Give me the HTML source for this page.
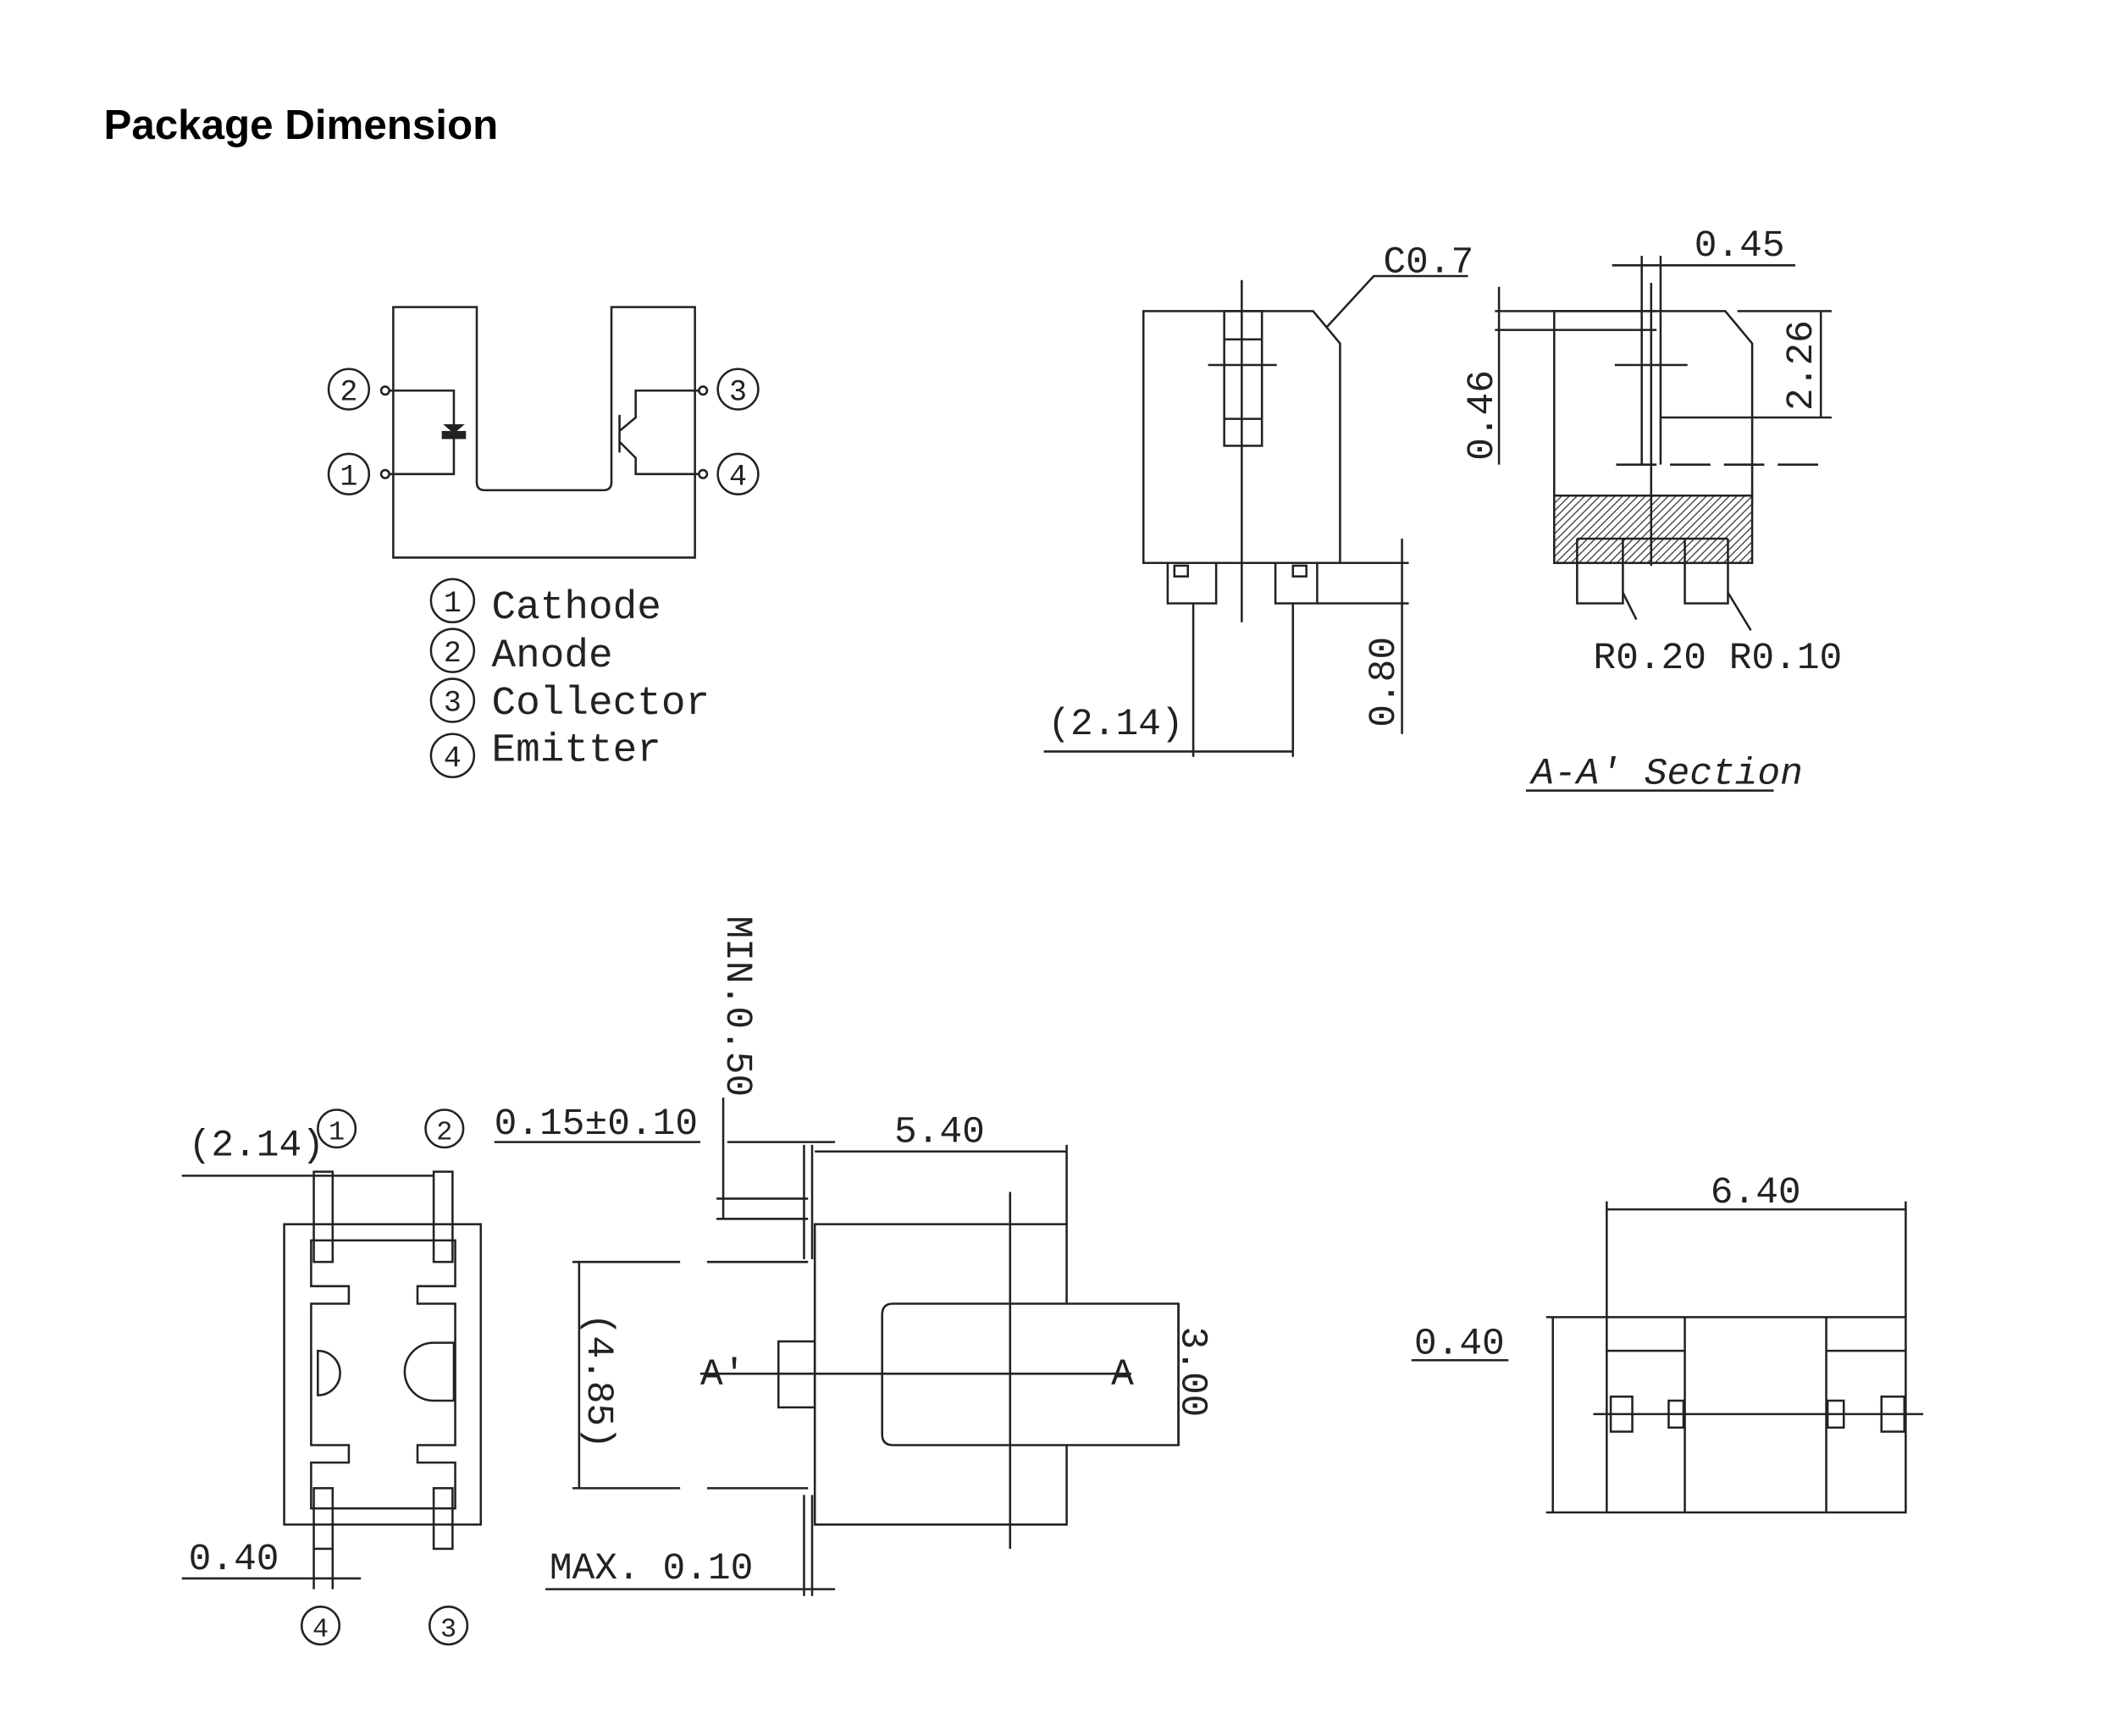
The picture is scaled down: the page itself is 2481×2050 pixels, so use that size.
<!DOCTYPE html>
<html><head><meta charset="utf-8"><style>
html,body{margin:0;padding:0;background:#fff}
svg{display:block}
.t{font-family:"Liberation Mono","DejaVu Sans Mono",monospace;fill:#222}
</style></head><body>
<svg width="2481" height="2050" viewBox="0 0 1560 1289" xmlns="http://www.w3.org/2000/svg">
<defs>
<pattern id="h" width="4" height="4" patternUnits="userSpaceOnUse" patternTransform="rotate(45)">
<rect width="4" height="4" fill="#fff"/><line x1="0" y1="0" x2="0" y2="4" stroke="#333" stroke-width="1.6"/></pattern>
</defs>
<text x="77" y="103" font-family="Liberation Sans,Arial,sans-serif" font-weight="bold" font-size="31" fill="#000">Package Dimension</text>

<g fill="none" stroke="#222" stroke-width="1.6">
<path d="M292,228 H354 V358 Q354,364 360,364 H448 Q454,364 454,358 V228 H516 V414 H292 Z"/>
<circle cx="286" cy="290" r="3"/><circle cx="286" cy="352" r="3"/>
<circle cx="522" cy="290" r="3"/><circle cx="522" cy="352" r="3"/>
<circle cx="259" cy="289" r="15"/><circle cx="259" cy="352" r="15"/>
<circle cx="548" cy="289" r="15"/><circle cx="548" cy="352" r="15"/>
<path d="M289,290 H337 V352 H289"/>
<path d="M519,290 H472 V310 L460,320 M460,308 V336 M460,328 L472,340 V352 H519"/>
<circle cx="336" cy="446" r="16"/><circle cx="336" cy="483" r="16"/>
<circle cx="336" cy="520" r="16"/><circle cx="336" cy="561" r="16"/>

<path d="M849,231 H975 L995,255 V418 H849 Z"/>
<line x1="922" y1="208" x2="922" y2="462"/>
<rect x="909" y="231" width="28" height="100"/>
<line x1="909" y1="252" x2="937" y2="252"/><line x1="897" y1="271" x2="948" y2="271"/><line x1="909" y1="311" x2="937" y2="311"/>
<path d="M867,418 V448 H903 V418 M947,418 V448 H978 V418"/>
<rect x="872" y="420" width="10" height="8"/><rect x="960" y="420" width="10" height="8"/>
<line x1="886" y1="448" x2="886" y2="562"/><line x1="960" y1="448" x2="960" y2="562"/>
<line x1="775" y1="558" x2="960" y2="558"/>
<line x1="978" y1="418" x2="1046" y2="418"/><line x1="978" y1="448" x2="1046" y2="448"/>
<line x1="1041" y1="400" x2="1041" y2="545"/>
<polyline points="985,243 1020,205 1090,205"/>

<path d="M1154,231 H1281 L1301,255 V368 H1154 Z"/>
<rect x="1154" y="368" width="147" height="50" fill="url(#h)"/>
<path d="M1171,400 V448 H1205 V400 M1251,400 V448 H1283 V400"/>
<line x1="1171" y1="400" x2="1283" y2="400"/>
<line x1="1226" y1="210" x2="1226" y2="420"/>
<line x1="1219" y1="190" x2="1219" y2="345"/><line x1="1233" y1="190" x2="1233" y2="345"/>
<line x1="1197" y1="197" x2="1333" y2="197"/>
<line x1="1199" y1="271" x2="1253" y2="271"/>
<line x1="1233" y1="310" x2="1360" y2="310"/><line x1="1290" y1="231" x2="1360" y2="231"/>
<line x1="1352" y1="231" x2="1352" y2="310"/>
<line x1="1110" y1="231" x2="1230" y2="231"/><line x1="1110" y1="245" x2="1230" y2="245"/>
<line x1="1113" y1="213" x2="1113" y2="345"/>
<line x1="1200" y1="345" x2="1352" y2="345" stroke-dasharray="30,10"/>
<line x1="1205" y1="440" x2="1215" y2="460"/><line x1="1283" y1="440" x2="1300" y2="468"/>
<line x1="1133" y1="587" x2="1317" y2="587"/>

<rect x="211" y="909" width="146" height="223"/>
<path d="M231,921 H338 V955 H310 V968 H338 V1073 H310 V1086 H338 V1120 H231 V1086 H259 V1073 H231 V968 H259 V955 H231 Z"/>
<rect x="233" y="870" width="14" height="67"/><rect x="322" y="870" width="14" height="67"/>
<rect x="233" y="1105" width="14" height="45"/><rect x="322" y="1105" width="14" height="45"/>
<path d="M236,1003 V1036 A16,16 0 0 0 236,1003 Z"/>
<path d="M337,997 V1040 H322 A21,21 0 0 1 322,997 Z"/>
<circle cx="250" cy="838" r="14"/><circle cx="330" cy="838" r="14"/>
<circle cx="238" cy="1207" r="14"/><circle cx="333" cy="1207" r="14"/>
<line x1="135" y1="873" x2="322" y2="873"/>
<line x1="135" y1="1172" x2="268" y2="1172"/>
<line x1="233" y1="1150" x2="233" y2="1180"/><line x1="247" y1="1150" x2="247" y2="1180"/>

<path d="M792,968 V909 H605 V1132 H792 V1073"/>
<path d="M663,968 H875 V1073 H663 Q655,1073 655,1065 V976 Q655,968 663,968 Z"/>
<line x1="750" y1="885" x2="750" y2="1150"/>
<line x1="520" y1="1020" x2="840" y2="1020"/>
<rect x="578" y="996" width="27" height="49"/>
<line x1="425" y1="937" x2="600" y2="937" stroke-dasharray="80,20"/>
<line x1="425" y1="1105" x2="600" y2="1105" stroke-dasharray="80,20"/>
<line x1="430" y1="937" x2="430" y2="1105"/>
<line x1="597" y1="850" x2="597" y2="935"/><line x1="603" y1="850" x2="603" y2="935"/>
<line x1="532" y1="890" x2="600" y2="890"/><line x1="532" y1="905" x2="600" y2="905"/>
<line x1="537" y1="815" x2="537" y2="905"/>
<line x1="540" y1="848" x2="620" y2="848"/>
<line x1="605" y1="855" x2="792" y2="855"/>
<line x1="792" y1="850" x2="792" y2="909"/>
<line x1="875" y1="968" x2="875" y2="1073"/>
<line x1="597" y1="1110" x2="597" y2="1185"/><line x1="603" y1="1110" x2="603" y2="1185"/>
<line x1="405" y1="1180" x2="620" y2="1180"/>
<line x1="367" y1="848" x2="520" y2="848"/>

<rect x="1193" y="978" width="222" height="145"/>
<line x1="1251" y1="978" x2="1251" y2="1123"/><line x1="1356" y1="978" x2="1356" y2="1123"/>
<line x1="1193" y1="1003" x2="1251" y2="1003"/><line x1="1356" y1="1003" x2="1415" y2="1003"/>
<line x1="1183" y1="1050" x2="1428" y2="1050"/>
<rect x="1196" y="1037" width="16" height="26"/><rect x="1239" y="1040" width="11" height="20"/>
<rect x="1357" y="1040" width="12" height="20"/><rect x="1397" y="1037" width="17" height="26"/>
<line x1="1193" y1="898" x2="1415" y2="898"/>
<line x1="1193" y1="892" x2="1193" y2="978"/><line x1="1415" y1="892" x2="1415" y2="978"/>
<line x1="1148" y1="978" x2="1193" y2="978"/><line x1="1148" y1="1123" x2="1193" y2="1123"/>
<line x1="1153" y1="978" x2="1153" y2="1123"/>
<line x1="1048" y1="1010" x2="1120" y2="1010"/>
</g>
<rect x="328" y="320" width="18" height="6" fill="#222"/>
<path d="M329,315 L345,315 L337,322 Z" fill="#222"/>

<g class="t" font-size="22" text-anchor="middle">
<text x="259" y="297">2</text><text x="259" y="360">1</text>
<text x="548" y="297">3</text><text x="548" y="360">4</text>
<text x="336" y="454">1</text><text x="336" y="491">2</text>
<text x="336" y="528">3</text><text x="336" y="569">4</text>
<text x="250" y="846" font-size="20">1</text><text x="330" y="846" font-size="20">2</text>
<text x="238" y="1215" font-size="20">4</text><text x="333" y="1215" font-size="20">3</text>
</g>
<g class="t" font-size="30">
<text x="365" y="459">Cathode</text><text x="365" y="495">Anode</text>
<text x="365" y="530">Collector</text><text x="365" y="565">Emitter</text>
</g>
<g class="t" font-size="28">
<text x="1027" y="202">C0.7</text>
<text x="1258" y="190">0.45</text>
<text x="778" y="545">(2.14)</text>
<text x="1183" y="496">R0.20 R0.10</text>
<text x="1137" y="582" font-style="italic">A-A' Section</text>
<text x="140" y="858">(2.14)</text>
<text x="140" y="1165">0.40</text>
<text x="367" y="842">0.15±0.10</text>
<text x="664" y="848">5.40</text>
<text x="408" y="1172">MAX. 0.10</text>
<text x="1270" y="893">6.40</text>
<text x="1050" y="1005">0.40</text>
<text x="520" y="1028">A'</text>
<text x="825" y="1028">A</text>
<text transform="translate(1035,540) rotate(-90)">0.80</text>
<text transform="translate(1345,305) rotate(-90)">2.26</text>
<text transform="translate(1108,342) rotate(-90)">0.46</text>
<text transform="translate(540,680) rotate(90)">MIN.0.50</text>
<text transform="translate(437,975) rotate(90)">(4.85)</text>
<text transform="translate(878,985) rotate(90)">3.00</text>
</g>
</svg>
</body></html>
